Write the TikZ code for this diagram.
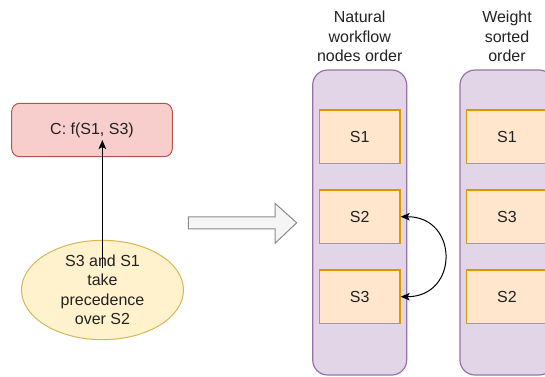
\documentclass[tikz,border=0pt]{standalone}
\usepackage{fontspec}
\setmainfont{Liberation Sans}
\usetikzlibrary{shapes.geometric,arrows.meta}
\definecolor{txt}{HTML}{222222}
\definecolor{redfill}{HTML}{F8CECC}
\definecolor{redline}{HTML}{B85450}
\definecolor{yelfill}{HTML}{FFF2CC}
\definecolor{yelline}{HTML}{D6B656}
\definecolor{lanefill}{HTML}{E1D5E7}
\definecolor{laneline}{HTML}{9673A6}
\definecolor{stepfill}{HTML}{FFE6CC}
\definecolor{stepline}{HTML}{D79B00}
\definecolor{bigfill}{HTML}{F5F5F5}
\definecolor{bigline}{HTML}{8A8A8A}
\tikzset{
  every node/.style={font=\fontsize{16}{19.5}\selectfont, text=txt},
  cond/.style={draw=redline, fill=redfill, line width=1pt, rounded corners=8pt,
    minimum width=160.6pt, minimum height=53.4pt, inner sep=0pt},
  note/.style={ellipse, draw=yelline, fill=yelfill, line width=1pt,
    minimum width=162pt, minimum height=94pt, inner sep=0pt, align=center},
  lane/.style={draw=laneline, fill=lanefill, line width=1.2pt, rounded corners=15pt},
  stepbox/.style={draw=stepline, fill=stepfill, line width=1.2pt,
    minimum width=80.7pt, minimum height=53.3pt, inner sep=0pt},
  heading/.style={align=center, inner sep=0pt},
  link/.style={line width=1pt, draw=black},
  tip/.style={-{Stealth[length=9pt, width=7.5pt, inset=2pt]}},
  bothtips/.style={{Stealth[length=9pt, width=7.5pt, inset=2pt]}-{Stealth[length=9pt, width=7.5pt, inset=2pt]}},
}
\begin{document}
\begin{tikzpicture}[x=1pt, y=-1pt]
  \useasboundingbox (0,0) rectangle (545,376);
  \clip (0,0) rectangle (545,376);

  % condition and the note that explains it
  \node[cond] (C) at (92,130) {C: f(S1, S3)};
  \node[note] (N) at (102.5,290) {S3 and S1\\take\\precedence\\over S2};
  \coordinate (ntail) at (102.3,268);
  \coordinate (nhead) at (102.3,140);
  \draw[link, tip] (ntail) -- (nhead);

  % hollow block arrow between the two halves
  \draw[draw=bigline, fill=bigfill, line width=1pt]
    (188.3,216.8) -- (275,216.8) -- (275,203.3) -- (296.7,222.8)
    -- (275,243.3) -- (275,228.8) -- (188.3,228.8) -- cycle;

  % swim lanes
  \draw[lane] (312.7,70) rectangle (406.7,375);
  \draw[lane] (460,70) rectangle (554,375);

  \node[heading] (h1) at (359.7,36.5) {Natural\\workflow\\nodes order};
  \node[heading] (h2) at (507,36.5) {Weight\\sorted\\order};

  % natural order
  \node[stepbox] (a1) at (359.7,136.7) {S1};
  \node[stepbox] (a2) at (359.7,216.7) {S2};
  \node[stepbox] (a3) at (359.7,296.7) {S3};

  % weight sorted order
  \node[stepbox] (b1) at (507,136.7) {S1};
  \node[stepbox] (b2) at (507,216.7) {S3};
  \node[stepbox] (b3) at (507,296.7) {S2};

  % swap between S2 and S3
  \draw[link, bothtips] (a2.east) .. controls (459,216.7) and (459,296.7) .. (a3.east);
\end{tikzpicture}
\end{document}
